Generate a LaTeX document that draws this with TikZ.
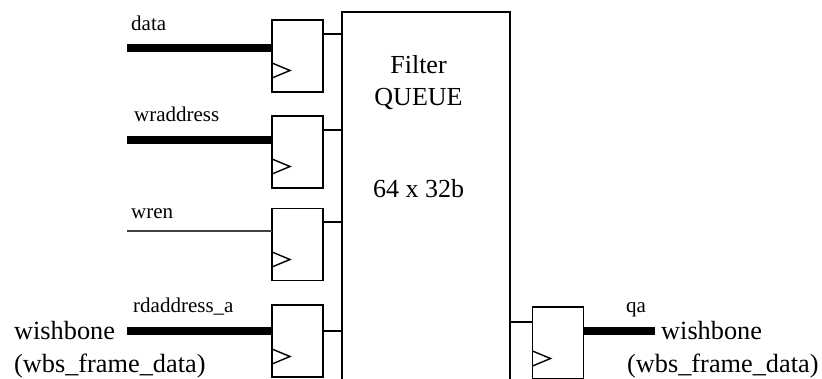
\documentclass[tikz,border=0pt]{standalone}
\usepackage{fontspec}
\setmainfont{Liberation Serif}
\tikzset{
  reg/.style={draw=black,line width=1.4pt,inner sep=0pt,outer sep=0pt,minimum width=51pt,minimum height=#1},
  reg/.default=72pt,
  bus/.style={line width=8pt,black},
  wire/.style={line width=1.4pt,black},
  thinwire/.style={line width=1.2pt,black!75},
  clk/.style={line width=1.4pt,black},
  sig/.style={inner sep=0pt,anchor=base west,font=\fontsize{21}{24}\selectfont},
  big/.style={inner sep=0pt,anchor=base west,font=\fontsize{26.3}{30}\selectfont},
  mid/.style={inner sep=0pt,anchor=base,font=\fontsize{26}{30}\selectfont}
}
\newcommand{\clockmark}[2]{\draw[clk] (#1-|#2.west) ++(0pt,7.5pt) -- ++(18pt,-7.5pt) -- ++(-18pt,-7.5pt);}
\begin{document}
\begin{tikzpicture}[x=1pt,y=-1pt]
\useasboundingbox (0,0) rectangle (822,378);
\clip (0,0) rectangle (822,378);
\node[draw=black,line width=1.4pt,inner sep=0pt,outer sep=0pt,minimum width=168pt,minimum height=400pt] (queue) at (426,212) {};
\node[reg] (rdata) at (297.5,56) {};
\node[reg] (rwr) at (297.5,152) {};
\node[reg] (rwren) at (297.5,244.5) {};
\node[reg] (rrd) at (297.5,341) {};
\node[reg] (rq) at (558,343) {};
% free ends
\coordinate (idata) at (127,48);
\coordinate (iwr) at (127,140);
\coordinate (iwren) at (127,231);
\coordinate (ird) at (127,331);
\coordinate (oq) at (655,331);
% inputs
\draw[bus] (idata) -- (idata-|rdata.west);
\draw[bus] (iwr) -- (iwr-|rwr.west);
\draw[thinwire] (iwren) -- (iwren-|rwren.west);
\draw[bus] (ird) -- (ird-|rrd.west);
\draw[bus] (rq.east|-oq) -- (oq);
% to queue
\coordinate (a1) at (330,34);
\coordinate (a2) at (330,130);
\coordinate (a3) at (330,222);
\coordinate (a4) at (330,331);
\coordinate (a5) at (520,322);
\draw[wire] (rdata.east|-a1) -- (queue.west|-a1);
\draw[wire] (rwr.east|-a2) -- (queue.west|-a2);
\draw[wire] (rwren.east|-a3) -- (queue.west|-a3);
\draw[wire] (rrd.east|-a4) -- (queue.west|-a4);
\draw[wire] (queue.east|-a5) -- (rq.west|-a5);
% clocks
\coordinate (c1) at (0,70.5);
\coordinate (c2) at (0,166.5);
\coordinate (c3) at (0,259.5);
\coordinate (c4) at (0,356.5);
\coordinate (c5) at (0,358.5);
\clockmark{c1}{rdata}
\clockmark{c2}{rwr}
\clockmark{c3}{rwren}
\clockmark{c4}{rrd}
\clockmark{c5}{rq}
% labels
\node[sig] (ldata) at (131,30) {data};
\node[sig] (lwr) at (134,121) {wraddress};
\node[sig] (lwren) at (131,218) {wren};
\node[sig] (lrd) at (133,312.5) {rdaddress\_a};
\node[sig] (lq) at (626,312) {qa};
\node[big] (w1) at (14,339) {wishbone};
\node[big] (w2) at (14,372) {(wbs\_frame\_data)};
\node[big] (w3) at (661,339) {wishbone};
\node[big] (w4) at (627,372) {(wbs\_frame\_data)};
\node[mid] (f1) at (418.5,73) {Filter};
\node[mid] (f2) at (418.5,105) {QUEUE};
\node[mid] (f3) at (418.5,197) {64 x 32b};
\end{tikzpicture}
\end{document}
